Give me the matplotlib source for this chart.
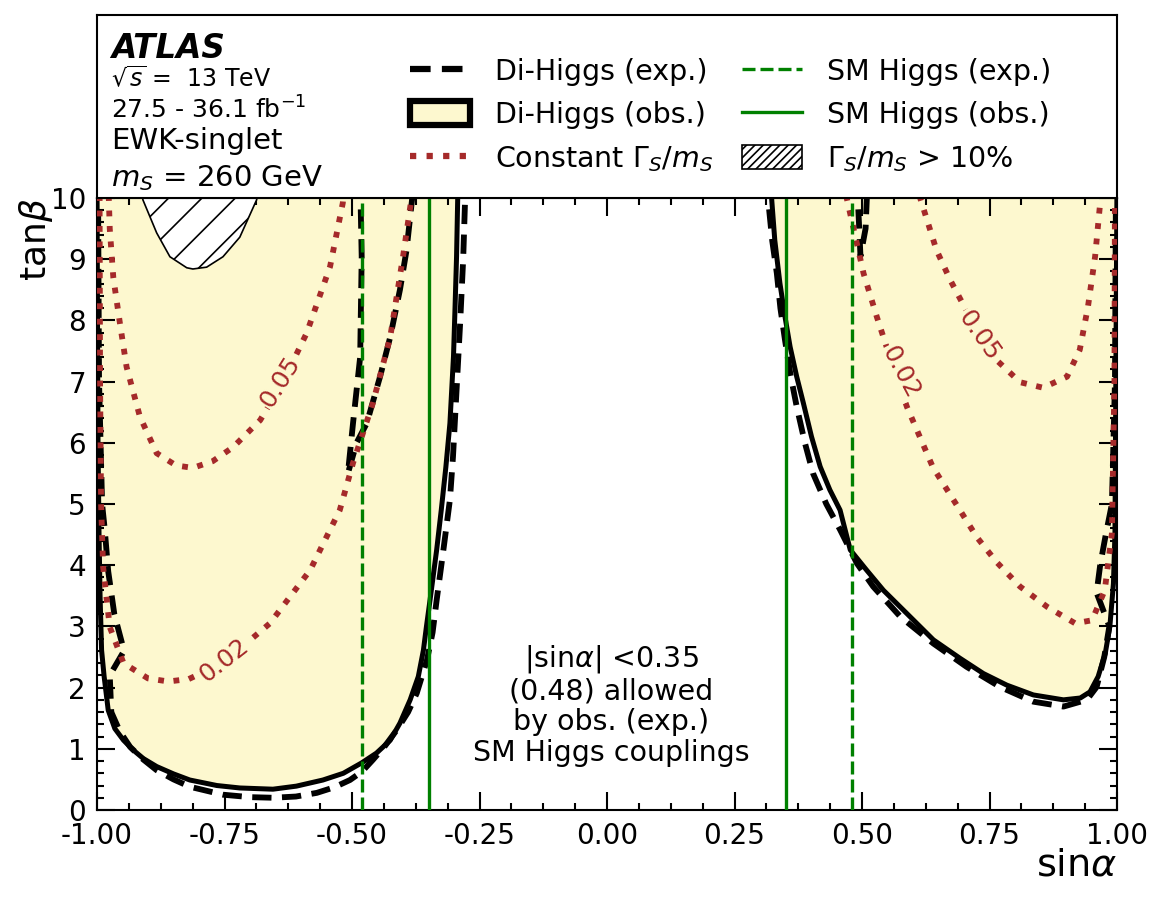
import matplotlib
matplotlib.use("Agg")
import matplotlib.pyplot as plt
from matplotlib.lines import Line2D
from matplotlib.patches import Patch
from matplotlib.ticker import MultipleLocator, FormatStrFormatter

plt.rcParams['axes.unicode_minus'] = False
plt.rcParams['hatch.linewidth'] = 1.2

# observed di-Higgs allowed region boundaries (sin alpha, tan beta)
obs_left_x = [-1.0, -0.999, -0.998, -0.996, -0.994, -0.991, -0.986, -0.978, -0.965, -0.948, -0.929,
              -0.909, -0.883, -0.850, -0.818, -0.765, -0.72, -0.655, -0.609, -0.557, -0.517, -0.481,
              -0.452, -0.425, -0.406, -0.386, -0.370, -0.360, -0.354, -0.347, -0.334, -0.325, -0.316,
              -0.308, -0.301, -0.298, -0.295, -0.292]
obs_left_y = [10.3, 8.0, 6.0, 4.5, 3.5, 2.61, 2.18, 1.63, 1.33, 1.14, 0.98,
              0.84, 0.71, 0.59, 0.49, 0.40, 0.36, 0.34, 0.39, 0.49, 0.60, 0.77,
              0.93, 1.14, 1.42, 1.80, 2.18, 2.61, 3.0, 3.43, 4.25, 4.9, 5.6,
              6.32, 7.41, 8.2, 9.04, 10.3]
obs_right_x = [0.322, 0.323, 0.329, 0.339, 0.349, 0.359, 0.372, 0.385, 0.401, 0.418, 0.437, 0.457,
               0.477, 0.509, 0.542, 0.588, 0.640, 0.692, 0.738, 0.784, 0.836, 0.895, 0.928, 0.947,
               0.963, 0.977, 0.986, 0.993, 0.996, 0.998, 1.0]
obs_right_y = [10.3, 9.97, 9.31, 8.61, 8.06, 7.57, 7.08, 6.65, 6.10, 5.61, 5.23, 4.90,
               4.25, 3.92, 3.59, 3.21, 2.78, 2.48, 2.23, 2.04, 1.88, 1.80, 1.83, 1.93,
               2.18, 2.56, 3.00, 3.70, 4.52, 7.5, 10.3]

# expected di-Higgs boundaries
exp_left_x = [-0.998, -0.996, -0.99, -0.985, -0.978, -0.966, -0.947, -0.975, -0.972, -0.955, -0.935,
              -0.91, -0.883, -0.85, -0.818, -0.753, -0.70, -0.655, -0.61, -0.569, -0.535, -0.504,
              -0.48, -0.459, -0.435, -0.412, -0.39, -0.373, -0.353, -0.342, -0.334, -0.32, -0.308,
              -0.302, -0.295, -0.288, -0.282, -0.277]
exp_left_y = [10.3, 7.0, 5.0, 4.6, 3.9, 3.2, 2.6, 2.2, 1.6, 1.28, 1.03,
              0.83, 0.65, 0.50, 0.38, 0.25, 0.21, 0.20, 0.22, 0.28, 0.37, 0.49,
              0.63, 0.82, 1.05, 1.31, 1.60, 1.91, 2.45, 2.90, 3.43, 4.30, 5.07,
              5.77, 6.86, 7.95, 9.0, 10.3]
exp_island_l_x = [-0.484, -0.481, -0.484, -0.498, -0.508, -0.491, -0.471, -0.445, -0.425, -0.406,
                  -0.393, -0.378]
exp_island_l_y = [10.3, 9.04, 7.40, 6.32, 5.50, 6.00, 6.32, 7.08, 7.73, 8.50, 9.15, 10.3]
exp_right_x = [0.314, 0.316, 0.324, 0.333, 0.340, 0.349, 0.360, 0.372, 0.388, 0.404, 0.430, 0.457,
               0.490, 0.522, 0.575, 0.640, 0.705, 0.771, 0.836, 0.895, 0.941, 0.960, 0.975, 0.985,
               0.960, 0.967, 0.978, 0.990, 0.996, 0.998]
exp_right_y = [10.3, 9.97, 9.30, 8.77, 8.20, 7.68, 7.10, 6.59, 6.00, 5.50, 5.00, 4.58,
               4.03, 3.65, 3.16, 2.72, 2.34, 2.01, 1.77, 1.69, 1.80, 2.01, 2.50, 3.00,
               3.55, 4.00, 4.50, 5.00, 7.0, 10.3]
exp_island_r_x = [0.490, 0.494, 0.497, 0.507, 0.511]
exp_island_r_y = [10.3, 9.6, 9.05, 9.5, 10.3]

# constant Gamma_S / m_S contours
c02_left_x = [-0.995, -0.994, -0.992, -0.988, -0.975, -0.948, -0.90, -0.86, -0.82, -0.753, -0.661,
              -0.582, -0.524, -0.498, -0.459, -0.425, -0.400, -0.378]
c02_left_y = [10.3, 7.0, 5.0, 3.97, 2.99, 2.40, 2.15, 2.10, 2.14, 2.40, 3.05,
              3.92, 4.90, 5.67, 6.65, 7.73, 9.04, 10.3]
c05_left_x = [-0.978, -0.975, -0.968, -0.955, -0.942, -0.916, -0.883, -0.845, -0.812, -0.773, -0.733,
              -0.680, -0.635, -0.589, -0.543, -0.518, -0.515]
c05_left_y = [10.3, 9.5, 8.7, 7.95, 7.24, 6.43, 5.83, 5.63, 5.59, 5.70, 5.93,
              6.37, 7.0, 7.79, 8.88, 9.92, 10.3]
c02_right_x = [0.467, 0.470, 0.503, 0.529, 0.561, 0.588, 0.639, 0.692, 0.725, 0.764, 0.810, 0.863,
               0.918, 0.951, 0.976, 0.990, 0.995, 0.996]
c02_right_y = [10.3, 10.0, 8.77, 8.06, 7.24, 6.59, 5.60, 4.90, 4.46, 4.05, 3.65, 3.32,
               3.05, 3.10, 3.59, 4.52, 7.0, 10.3]
c05_right_x = [0.611, 0.614, 0.646, 0.673, 0.718, 0.764, 0.810, 0.855, 0.902, 0.927, 0.943, 0.957,
               0.967, 0.970]
c05_right_y = [10.3, 10.0, 9.15, 8.66, 7.95, 7.35, 6.99, 6.90, 7.08, 7.52, 8.22, 9.04,
               9.92, 10.3]

# width > 10% region
wide_x = [-0.915, -0.910, -0.883, -0.857, -0.824, -0.812, -0.785, -0.753, -0.720, -0.687, -0.682]
wide_y = [10.3, 9.97, 9.43, 9.04, 8.86, 8.84, 8.87, 9.04, 9.36, 9.97, 10.3]

# SM Higgs coupling limits on |sin alpha|
sm_obs = 0.35
sm_exp = 0.48

# contour labels: text, x, y, rotation
clabels = [("0.05", -0.64, 7.0, 58), ("0.02", -0.75, 2.45, 38),
           ("0.02", 0.575, 7.15, -62), ("0.05", 0.73, 7.75, -55)]

yellow = '#fdf8cf'
brown = '#a52a2a'
green = '#008000'

fig = plt.figure(figsize=(11.65, 8.98), dpi=100)
ax = fig.add_axes([97 / 1165, 88 / 898, 1020 / 1165, 612 / 898])
axt = fig.add_axes([97 / 1165, 700 / 898, 1020 / 1165, 183 / 898])

ax.fill(obs_left_x, obs_left_y, color=yellow, lw=0, zorder=1)
ax.fill(obs_right_x, obs_right_y, color=yellow, lw=0, zorder=1)
ax.fill(wide_x, wide_y, facecolor='white', edgecolor='black', hatch='/', lw=1.2, zorder=2)

ax.plot(obs_left_x, obs_left_y, color='black', lw=3.6, zorder=3)
ax.plot(obs_right_x, obs_right_y, color='black', lw=3.6, zorder=3)

dash = (3.3, 1.8)
for xs, ys in [(exp_left_x, exp_left_y), (exp_island_l_x, exp_island_l_y),
               (exp_right_x, exp_right_y), (exp_island_r_x, exp_island_r_y)]:
    ax.plot(xs, ys, color='black', lw=4.2, dashes=dash, zorder=4)

for xs, ys in [(c02_left_x, c02_left_y), (c05_left_x, c05_left_y),
               (c02_right_x, c02_right_y), (c05_right_x, c05_right_y)]:
    ax.plot(xs, ys, color=brown, lw=4.2, ls=':', zorder=5)

for t, x, y, r in clabels:
    ax.text(x, y, t, color=brown, fontsize=18, rotation=r, ha='center', va='center', zorder=6,
            bbox=dict(fc=yellow, ec='none', pad=1))

for s in (-1, 1):
    ax.axvline(s * sm_obs, color=green, lw=2.4, zorder=7)
    ax.axvline(s * sm_exp, color=green, lw=2.4, ls='--', dashes=(3.9, 1.5), zorder=7)

ax.text(0.008, 1.72, "|sin$\\alpha$| <0.35\n(0.48) allowed\nby obs. (exp.)\nSM Higgs couplings",
        fontsize=20.5, ha='center', va='center', linespacing=1.12)

ax.set_xlim(-1, 1)
ax.set_ylim(0, 10)
ax.xaxis.set_major_locator(MultipleLocator(0.25))
ax.xaxis.set_minor_locator(MultipleLocator(0.0625))
ax.xaxis.set_major_formatter(FormatStrFormatter('%.2f'))
ax.yaxis.set_major_locator(MultipleLocator(1))
ax.yaxis.set_minor_locator(MultipleLocator(0.2))
ax.tick_params(which='both', direction='in', top=True, right=True, width=1.5)
ax.tick_params(which='major', length=13, labelsize=20, pad=8)
ax.tick_params(axis='x', which='major', pad=9)
ax.tick_params(which='minor', length=5)
for sp in ax.spines.values():
    sp.set_linewidth(1.5)
ax.set_xlabel(r'sin$\alpha$', fontsize=27.5, loc='right', labelpad=-2)
ax.set_ylabel(r'tan$\beta$', fontsize=26, loc='top', labelpad=-3)

axt.set_xticks([])
axt.set_yticks([])
axt.set_xlim(0, 1)
axt.set_ylim(0, 1)
for sp in axt.spines.values():
    sp.set_linewidth(1.5)

axt.text(0.014, 0.765, "ATLAS", fontsize=23.5, fontweight='bold', fontstyle='italic', va='baseline')
axt.text(0.014, 0.607, r"$\sqrt{s}$ =  13 TeV", fontsize=17, va='baseline')
axt.text(0.014, 0.432, r"27.5 - 36.1 fb$^{-1}$", fontsize=18, va='baseline')
axt.text(0.014, 0.268, "EWK-singlet", fontsize=21, va='baseline')
axt.text(0.014, 0.066, r"$m_S$ = 260 GeV", fontsize=21, va='baseline')

handles = [
    Line2D([], [], color='black', lw=4.5, dashes=dash),
    Patch(facecolor=yellow, edgecolor='black', lw=4.5),
    Line2D([], [], color=brown, lw=4.5, ls=':'),
    Line2D([], [], color=green, lw=2.4, ls='--', dashes=(3.9, 1.5)),
    Line2D([], [], color=green, lw=2.4),
    Patch(facecolor='white', edgecolor='black', hatch='////', lw=1.2),
]
labels = ["Di-Higgs (exp.)", "Di-Higgs (obs.)", r"Constant $\Gamma_S/m_S$",
          "SM Higgs (exp.)", "SM Higgs (obs.)", r"$\Gamma_S/m_S$ > 10%"]
fig.legend(handles, labels, ncol=2, loc='upper left', bbox_to_anchor=(410 / 1165, 1 - 58 / 898),
           frameon=False, fontsize=20.5, handlelength=2.1, handleheight=0.95, handletextpad=0.9,
           columnspacing=1.0, labelspacing=0.52, borderpad=0, borderaxespad=0)

fig.savefig("out.png", dpi=100)
